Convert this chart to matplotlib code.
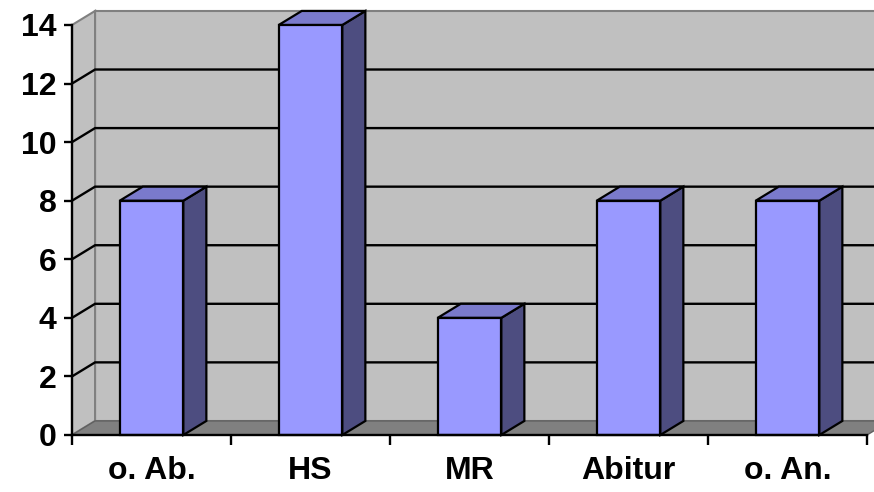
import matplotlib.pyplot as plt
from matplotlib.patches import Polygon

# Data
categories = ['o. Ab.', 'HS', 'MR', 'Abitur', 'o. An.']
values = [8, 14, 4, 8, 8]
yticks = [0, 2, 4, 6, 8, 10, 12, 14]

# 3D look: depth offset in data units
DX = 0.145
DY = 0.48
BAR_W = 0.4
YMAX = 14

plt.rcParams['font.family'] = ['Liberation Sans', 'DejaVu Sans']

fig = plt.figure(figsize=(8.74, 4.92), dpi=100)
ax = fig.add_axes([72 / 874, 57 / 492, 795 / 874, 410 / 492])
ax.set_xlim(0, len(categories))
ax.set_ylim(0, YMAX)
ax.patch.set_visible(False)

n = len(categories)

# back wall, side wall and floor
wall = Polygon([(DX, DY), (n + DX, DY), (n + DX, YMAX + DY), (DX, YMAX + DY)],
               closed=True, facecolor='#c0c0c0', edgecolor='#808080', lw=1.5,
               clip_on=False, zorder=1)
side = Polygon([(0, 0), (DX, DY), (DX, YMAX + DY), (0, YMAX)],
               closed=True, facecolor='#c0c0c0', edgecolor='#808080', lw=1.5,
               clip_on=False, zorder=1)
floor = Polygon([(0, 0), (n, 0), (n + DX, DY), (DX, DY)],
                closed=True, facecolor='#808080', edgecolor='#606060', lw=1,
                clip_on=False, zorder=2)
ax.add_patch(wall)
ax.add_patch(side)
ax.add_patch(floor)

# gridlines on the walls
for v in yticks[1:-1]:
    ax.plot([0, DX, n + DX], [v, v + DY, v + DY], color='black', lw=1.7,
            clip_on=False, zorder=3, solid_joinstyle='miter')

# bars
for i, v in enumerate(values):
    x0 = i + 0.5 - BAR_W / 2
    x1 = i + 0.5 + BAR_W / 2
    front = Polygon([(x0, 0), (x1, 0), (x1, v), (x0, v)], closed=True,
                    facecolor='#9999ff', edgecolor='black', lw=1.6,
                    clip_on=False, zorder=5)
    right = Polygon([(x1, 0), (x1 + DX, DY), (x1 + DX, v + DY), (x1, v)],
                    closed=True, facecolor='#4d4d80', edgecolor='black', lw=1.6,
                    clip_on=False, zorder=5)
    top = Polygon([(x0, v), (x1, v), (x1 + DX, v + DY), (x0 + DX, v + DY)],
                  closed=True, facecolor='#7a7acc', edgecolor='black', lw=1.6,
                  clip_on=False, zorder=5)
    ax.add_patch(right)
    ax.add_patch(top)
    ax.add_patch(front)

# axes
for s in ['top', 'right']:
    ax.spines[s].set_visible(False)
for s in ['left', 'bottom']:
    ax.spines[s].set_linewidth(1.7)
    ax.spines[s].set_zorder(6)

ax.set_yticks(yticks)
ax.set_yticklabels([str(t) for t in yticks], fontsize=23, fontweight='bold')
ax.tick_params(axis='y', direction='out', length=6, width=1.7, pad=5)

ax.set_xticks(range(n + 1))
ax.set_xticklabels([])
ax.set_xticks([i + 0.5 for i in range(n)], minor=True)
ax.set_xticklabels(categories, minor=True, fontsize=23, fontweight='bold')
ax.tick_params(axis='x', which='major', direction='out', length=7, width=1.7)
ax.tick_params(axis='x', which='minor', length=0, pad=15)

fig.savefig('out.png', dpi=100)
